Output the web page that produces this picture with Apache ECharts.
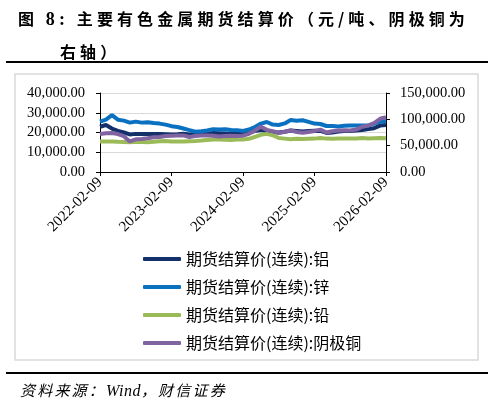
<!DOCTYPE html>
<html>
<head>
<meta charset="utf-8">
<script src="https://cdn.jsdelivr.net/npm/echarts@6/dist/echarts.min.js"></script>
<style>
html,body{margin:0;padding:0;background:#fff;}
#wrap{position:relative;width:493px;height:405px;overflow:hidden;}
#chart{position:absolute;left:0;top:0;width:493px;height:405px;}
.t{position:absolute;white-space:nowrap;color:#000;}
#t1{left:18px;top:6px;font:bold 16px "Noto Sans CJK SC",sans-serif;letter-spacing:4.1px;}
#t1 b{font-family:"Liberation Serif",serif;font-size:18px;}
#t2{left:60px;top:39px;font:bold 16px "Noto Sans CJK SC",sans-serif;letter-spacing:4.1px;}
#src{left:20px;top:379px;font:italic 15px "Noto Sans CJK SC",sans-serif;letter-spacing:2.2px;}
#src i{font-family:"Liberation Serif",serif;font-size:16px;letter-spacing:0.5px;}
</style>
</head>
<body>
<div id="wrap">
<div id="chart"></div>
<div class="t" id="t1">图 <b>8:</b> 主要有色金属期货结算价（元/吨、阴极铜为</div>
<div class="t" id="t2">右轴）</div>
<div class="t" id="src">资料来源：<i>Wind</i>，财信证券</div>
</div>
<script>
// Monthly categories 2022-02-09 .. 2026-02-09
const dates = [
 "2022-02-09","2022-03-09","2022-04-09","2022-05-09","2022-06-09","2022-07-09","2022-08-09","2022-09-09","2022-10-09","2022-11-09","2022-12-09",
 "2023-01-09","2023-02-09","2023-03-09","2023-04-09","2023-05-09","2023-06-09","2023-07-09","2023-08-09","2023-09-09","2023-10-09","2023-11-09","2023-12-09",
 "2024-01-09","2024-02-09","2024-03-09","2024-04-09","2024-05-09","2024-06-09","2024-07-09","2024-08-09","2024-09-09","2024-10-09","2024-11-09","2024-12-09",
 "2025-01-09","2025-02-09","2025-03-09","2025-04-09","2025-05-09","2025-06-09","2025-07-09","2025-08-09","2025-09-09","2025-10-09","2025-11-09","2025-12-09",
 "2026-01-09","2026-02-09"
];
// 铝
const aluminum = [
 22900,23800,22000,20800,20000,19000,19300,19300,19200,19300,19200,
 19100,19000,19100,19400,19000,19200,19200,19300,19700,19600,19500,19400,
 19500,19300,19800,20800,21300,20800,20200,20000,20400,21000,20800,20500,
 20700,20900,20800,19800,20000,20500,20800,20800,21000,21300,21800,22200,
 23500,23800
];
// 锌
const zinc = [
 25500,26500,28800,26500,26000,25000,25500,25000,25200,24800,24500,
 24000,23200,22800,22000,21200,20400,20600,21000,21700,21500,21700,21300,
 21200,20800,21500,22800,24500,25300,24000,23800,24600,26300,26000,26200,
 25400,24500,24300,23300,23300,23000,23400,23600,23500,23600,23500,24500,
 25500,25800
];
// 铅
const lead = [
 15400,15500,15500,15300,15200,15100,15300,15200,15100,15300,15600,
 15700,15500,15400,15500,15600,15700,15900,16200,16500,16400,16300,16200,
 16400,16500,16800,17800,18800,19300,18600,17200,16900,16600,16800,16700,
 16800,16900,17200,16900,16800,16900,17000,16900,17000,17200,17000,17100,
 17200,17100
];
// 阴极铜 (右轴)
const copper = [
 72000,73500,74000,72000,68000,58000,62000,62500,64000,66000,66500,
 68500,69000,69500,69500,66500,68500,69500,69500,69000,67500,68500,69000,
 68500,69000,72500,78500,86000,80000,77500,74000,76500,79000,76000,74500,
 76000,78000,80500,75000,77500,79000,79500,79000,80500,86000,88000,93000,
 101000,104000
];
const seriesNames = ["期货结算价(连续):铝","期货结算价(连续):锌","期货结算价(连续):铅","期货结算价(连续):阴极铜"];
const colors = ["#13306B","#0A70C0","#9BBB59","#8064A2"];
const leftTicks = [0,10000,20000,30000,40000];
const rightTicks = [0,50000,100000,150000];

function fmt(v){
  return v.toLocaleString('en-US',{minimumFractionDigits:2,maximumFractionDigits:2});
}
const serif = '"Liberation Serif","Times New Roman",serif';
const chart = echarts.init(document.getElementById('chart'));
const values = [aluminum, zinc, lead, copper];
chart.setOption({
  animation:false,
  backgroundColor:'#fff',
  color:colors,
  graphic:[
    {type:'line',shape:{x1:6,y1:62,x2:488,y2:62},style:{stroke:'#000',lineWidth:2},silent:true},
    {type:'rect',shape:{x:15,y:74,width:463,height:286},style:{fill:'none',stroke:'#d9d9d9',lineWidth:1.5},silent:true},
    {type:'line',shape:{x1:6,y1:373,x2:488,y2:373},style:{stroke:'#000',lineWidth:2},silent:true}
  ],
  grid:{left:100,right:107,top:93,bottom:233,containLabel:false},
  legend:{
    orient:'vertical',left:143,top:250,padding:0,
    icon:'roundRect',itemWidth:38,itemHeight:4,itemGap:10,
    textStyle:{fontFamily:'"Noto Sans CJK SC",sans-serif',fontSize:16,color:'#000',lineHeight:18},
    data:seriesNames
  },
  xAxis:{
    type:'category',data:dates,boundaryGap:false,
    axisLine:{lineStyle:{color:'#000',width:1}},
    axisTick:{interval:11,length:4,lineStyle:{color:'#000'}},
    axisLabel:{interval:11,rotate:45,margin:8,color:'#000',fontFamily:serif,fontSize:15},
    splitLine:{show:false}
  },
  yAxis:[
    {type:'value',min:0,max:40000,interval:10000,position:'left',
     axisLine:{show:true,lineStyle:{color:'#000'}},
     axisTick:{show:true,length:4,lineStyle:{color:'#000'}},
     axisLabel:{color:'#000',fontFamily:serif,fontSize:14.5,margin:15,formatter:fmt},
     splitLine:{show:true,lineStyle:{color:'#d9d9d9',width:1}}},
    {type:'value',min:0,max:150000,interval:50000,position:'right',
     axisLine:{show:true,lineStyle:{color:'#000'}},
     axisTick:{show:true,length:4,lineStyle:{color:'#000'}},
     axisLabel:{color:'#000',fontFamily:serif,fontSize:14.5,margin:14,formatter:fmt},
     splitLine:{show:false}}
  ],
  series: seriesNames.map((n,i)=>({
    name:n,type:'line',data:values[i],yAxisIndex:i===3?1:0,
    showSymbol:false,symbol:'none',
    lineStyle:{width:4,color:colors[i]},
    itemStyle:{color:colors[i]}
  }))
});
</script>
</body>
</html>
